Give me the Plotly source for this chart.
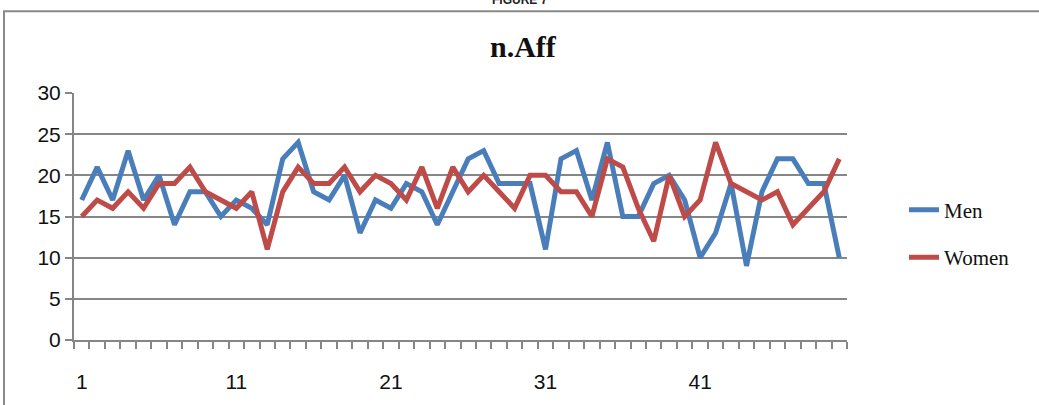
import plotly.graph_objects as go

x_index = list(range(1, 51))
men = [17, 21, 17, 23, 17, 20, 14, 18, 18, 15,
       17, 16, 14, 22, 24, 18, 17, 20, 13, 17,
       16, 19, 18, 14, 18, 22, 23, 19, 19, 19,
       11, 22, 23, 17, 24, 15, 15, 19, 20, 17,
       10, 13, 19, 9, 18, 22, 22, 19, 19, 10]
women = [15, 17, 16, 18, 16, 19, 19, 21, 18, 17,
         16, 18, 11, 18, 21, 19, 19, 21, 18, 20,
         19, 17, 21, 16, 21, 18, 20, 18, 16, 20,
         20, 18, 18, 15, 22, 21, 16, 12, 20, 15,
         17, 24, 19, 18, 17, 18, 14, 16, 18, 22]
x_tickvals = [1, 11, 21, 31, 41]
x_ticktext = ["1", "11", "21", "31", "41"]
y_tickvals = [0, 5, 10, 15, 20, 25, 30]

W, H = 1039, 405
L, R, T, B = 74, 847, 93, 344

def px(xp):
    return (xp - L) / (R - L)

def py(yp):
    return (B - yp) / (B - T)

fig = go.Figure()
fig.add_trace(go.Scatter(x=x_index, y=men, mode="lines", name="Men",
                         line=dict(color="#4a7ebb", width=5), legendgroup="m"))
fig.add_trace(go.Scatter(x=x_index, y=women, mode="lines", name="Women",
                         line=dict(color="#be4b48", width=5), legendgroup="w"))

grid = "#868686"
fig.update_layout(
    width=W, height=H,
    margin=dict(l=L, r=W - R, t=T, b=H - B),
    paper_bgcolor="white", plot_bgcolor="white",
    showlegend=True,
    legend=dict(x=px(904), y=py(236), xanchor="left", yanchor="middle",
                font=dict(family="Liberation Serif", size=21, color="#111"),
                tracegroupgap=17, bgcolor="rgba(0,0,0,0)"),
    xaxis=dict(range=[0.5, 50.5], tickvals=x_tickvals, ticktext=x_ticktext,
               ticks="", showgrid=False, zeroline=False,
               showline=True, linecolor=grid, linewidth=2,
               ticklabelstandoff=22,
               tickfont=dict(family="Liberation Sans", size=21, color="#111"),
               minor=dict(ticks="outside", tick0=0.5, dtick=1, ticklen=7,
                          tickcolor=grid, tickwidth=2, showgrid=False)),
    yaxis=dict(range=[0, 30], tickvals=y_tickvals, showgrid=True, gridcolor=grid,
               gridwidth=2, zeroline=False, showline=True, linecolor=grid,
               linewidth=2, ticks="outside", ticklen=7, tickcolor=grid, tickwidth=2,
               tickfont=dict(family="Liberation Sans", size=21, color="#111")),
    shapes=[dict(type="rect", xref="paper", yref="paper",
                 x0=px(4), x1=px(1060), y0=py(420), y1=py(10),
                 line=dict(color="#8a8a8a", width=2), fillcolor="rgba(0,0,0,0)",
                 layer="below")],
    annotations=[
        dict(text="<b>n.Aff</b>", x=px(523), y=py(46), xref="paper", yref="paper",
             showarrow=False, xanchor="center", yanchor="middle",
             font=dict(family="Liberation Serif", size=30, color="#111")),
        dict(text="<b>FIGURE 7</b>", x=px(520), y=py(-2), xref="paper", yref="paper",
             showarrow=False, xanchor="center", yanchor="middle",
             font=dict(family="Liberation Sans", size=12, color="#222")),
    ],
)

fig.write_html("out.html")
